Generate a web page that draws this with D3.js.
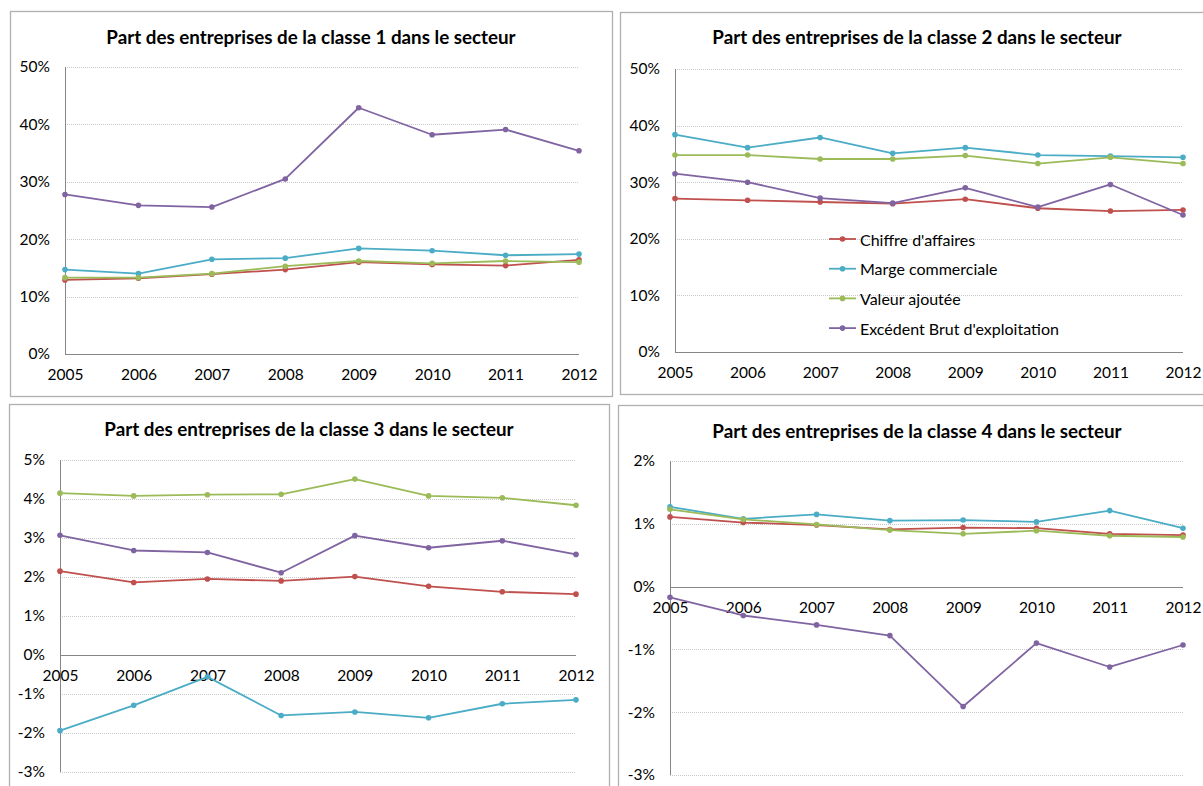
<!DOCTYPE html>
<html>
<head>
<meta charset="utf-8">
<script src="https://cdn.jsdelivr.net/npm/d3@7"></script>
<style>
  html, body { margin: 0; padding: 0; background: #fff; }
  svg { display: block; font-family: Lato, "Open Sans", sans-serif; }
</style>
</head>
<body>
<svg id="chart" width="1203" height="786"></svg>
<script>
// Years on the x axis
const years = [2005, 2006, 2007, 2008, 2009, 2010, 2011, 2012];

// Series names (legend order)
const seriesNames = ["Chiffre d'affaires", "Marge commerciale", "Valeur ajoutée", "Excédent Brut d'exploitation"];
const seriesColors = ["#C0504D", "#4BACC6", "#9BBB59", "#8064A2"];

// Classe 1 (%)
const c1Chiffre = [12.9, 13.2, 13.9, 14.7, 16.0, 15.6, 15.4, 16.4];
const c1Marge   = [14.7, 14.0, 16.5, 16.7, 18.4, 18.0, 17.2, 17.4];
const c1Valeur  = [13.3, 13.3, 14.0, 15.3, 16.2, 15.8, 16.2, 16.0];
const c1EBE     = [27.8, 25.9, 25.6, 30.5, 42.9, 38.2, 39.1, 35.4];

// Classe 2 (%)
const c2Chiffre = [27.1, 26.8, 26.5, 26.2, 27.0, 25.4, 24.9, 25.1];
const c2Marge   = [38.4, 36.1, 37.9, 35.1, 36.1, 34.8, 34.6, 34.4];
const c2Valeur  = [34.8, 34.8, 34.1, 34.1, 34.7, 33.3, 34.4, 33.3];
const c2EBE     = [31.5, 30.0, 27.2, 26.3, 29.0, 25.6, 29.6, 24.2];

// Classe 3 (%)
const c3Chiffre = [2.15, 1.86, 1.95, 1.90, 2.01, 1.76, 1.62, 1.56];
const c3Marge   = [-1.94, -1.29, -0.56, -1.55, -1.46, -1.61, -1.25, -1.15];
const c3Valeur  = [4.15, 4.08, 4.11, 4.12, 4.51, 4.08, 4.03, 3.84];
const c3EBE     = [3.07, 2.68, 2.63, 2.11, 3.06, 2.75, 2.93, 2.58];

// Classe 4 (%)
const c4Chiffre = [1.11, 1.02, 0.98, 0.91, 0.94, 0.93, 0.84, 0.82];
const c4Marge   = [1.27, 1.08, 1.15, 1.05, 1.06, 1.03, 1.21, 0.93];
const c4Valeur  = [1.23, 1.07, 0.99, 0.90, 0.84, 0.89, 0.81, 0.79];
const c4EBE     = [-0.17, -0.46, -0.61, -0.78, -1.91, -0.90, -1.28, -0.93];

// Y tick values for each panel (%)
const ticks1 = [0, 10, 20, 30, 40, 50];
const ticks2 = [0, 10, 20, 30, 40, 50];
const ticks3 = [-3, -2, -1, 0, 1, 2, 3, 4, 5];
const ticks4 = [-3, -2, -1, 0, 1, 2];

const panels = [
  { title: "Part des entreprises de la classe 1 dans le secteur",
    series: [c1Chiffre, c1Marge, c1Valeur, c1EBE], ticks: ticks1,
    frame: { x: 10, y: 11, w: 602, h: 385 },
    plot: { x0: 65, x1: 579, yTop: 67, yBot: 354 }, titleX: 311, titleY: 36, legend: false },
  { title: "Part des entreprises de la classe 2 dans le secteur",
    series: [c2Chiffre, c2Marge, c2Valeur, c2EBE], ticks: ticks2,
    frame: { x: 620, y: 12, w: 600, h: 382 },
    plot: { x0: 675, x1: 1183, yTop: 69, yBot: 352 }, titleX: 917, titleY: 36, legend: true },
  { title: "Part des entreprises de la classe 3 dans le secteur",
    series: [c3Chiffre, c3Marge, c3Valeur, c3EBE], ticks: ticks3,
    frame: { x: 9, y: 404, w: 600, h: 400 },
    plot: { x0: 60, x1: 576, yTop: 460, yBot: 772 }, titleX: 309, titleY: 428, legend: false },
  { title: "Part des entreprises de la classe 4 dans le secteur",
    series: [c4Chiffre, c4Marge, c4Valeur, c4EBE], ticks: ticks4,
    frame: { x: 618, y: 405, w: 600, h: 400 },
    plot: { x0: 670, x1: 1183, yTop: 461, yBot: 775 }, titleX: 917, titleY: 430, legend: false }
];

const svg = d3.select("#chart");
// percent labels with a plain hyphen for negatives
const pct = v => (v < 0 ? "-" + Math.abs(v) : String(v)) + "%";

panels.forEach(p => {
  const g = svg.append("g");

  // chart frame
  g.append("rect")
    .attr("x", p.frame.x + 0.5).attr("y", p.frame.y + 0.5)
    .attr("width", p.frame.w).attr("height", p.frame.h)
    .attr("fill", "#fff").attr("stroke", "#b0b0b0").attr("stroke-width", 1.3);

  // title
  g.append("text")
    .attr("x", p.titleX).attr("y", p.titleY)
    .attr("text-anchor", "middle").attr("dominant-baseline", "central")
    .attr("font-weight", "bold").attr("font-size", 18.8).attr("fill", "#000")
    .text(p.title);

  const x = d3.scalePoint().domain(years).range([p.plot.x0, p.plot.x1]);
  const y = d3.scaleLinear()
    .domain([d3.min(p.ticks), d3.max(p.ticks)])
    .range([p.plot.yBot, p.plot.yTop]);

  // dotted gridlines
  g.append("g").selectAll("line")
    .data(p.ticks.filter(t => t !== 0))
    .join("line")
    .attr("x1", p.plot.x0).attr("x2", p.plot.x1)
    .attr("y1", d => Math.round(y(d)) + 0.5).attr("y2", d => Math.round(y(d)) + 0.5)
    .attr("stroke", "#c8c8c8").attr("stroke-width", 1)
    .attr("stroke-dasharray", "1,1");

  // y axis (labels only, plus a plain vertical line)
  const yAxis = d3.axisLeft(y).tickValues(p.ticks).tickFormat(pct).tickSize(0).tickPadding(15);
  const ya = g.append("g")
    .attr("transform", `translate(${p.plot.x0},0)`)
    .call(yAxis);
  ya.select(".domain").remove();
  ya.selectAll("text").attr("font-size", 15.5).attr("fill", "#000")
    .attr("font-family", "Lato, sans-serif");

  g.append("line")
    .attr("x1", p.plot.x0 + 0.5).attr("x2", p.plot.x0 + 0.5)
    .attr("y1", p.plot.yTop).attr("y2", p.plot.yBot)
    .attr("stroke", "#868686").attr("stroke-width", 1);

  // x axis along the zero line
  const y0 = Math.round(y(0)) + 0.5;
  g.append("line")
    .attr("x1", p.plot.x0).attr("x2", p.plot.x1)
    .attr("y1", y0).attr("y2", y0)
    .attr("stroke", "#868686").attr("stroke-width", 1);

  const xAxis = d3.axisBottom(x).tickSize(0).tickPadding(14);
  const xa = g.append("g")
    .attr("transform", `translate(0,${y0})`)
    .call(xAxis);
  xa.select(".domain").remove();
  xa.selectAll("text").attr("font-size", 15.5).attr("fill", "#000")
    .attr("font-family", "Lato, sans-serif");

  // series lines and markers
  const line = d3.line().x((d, i) => x(years[i])).y(d => y(d));
  p.series.forEach((vals, si) => {
    g.append("path")
      .datum(vals)
      .attr("d", line)
      .attr("fill", "none")
      .attr("stroke", seriesColors[si])
      .attr("stroke-width", 1.8)
      .attr("stroke-linejoin", "round");
    g.append("g").selectAll("circle")
      .data(vals)
      .join("circle")
      .attr("cx", (d, i) => x(years[i]))
      .attr("cy", d => y(d))
      .attr("r", 2.8)
      .attr("fill", seriesColors[si]);
  });

  // legend
  if (p.legend) {
    const lg = g.append("g").attr("transform", "translate(829,239)");
    seriesNames.forEach((name, i) => {
      const row = lg.append("g").attr("transform", `translate(0,${i * 29.7})`);
      row.append("line").attr("x1", 0).attr("x2", 27).attr("y1", 0).attr("y2", 0)
        .attr("stroke", seriesColors[i]).attr("stroke-width", 1.8);
      row.append("circle").attr("cx", 13.5).attr("cy", 0).attr("r", 2.8)
        .attr("fill", seriesColors[i]);
      row.append("text").attr("x", 31).attr("y", 0)
        .attr("dominant-baseline", "central")
        .attr("font-size", 16).attr("fill", "#000")
        .text(name);
    });
  }
});
</script>
</body>
</html>
